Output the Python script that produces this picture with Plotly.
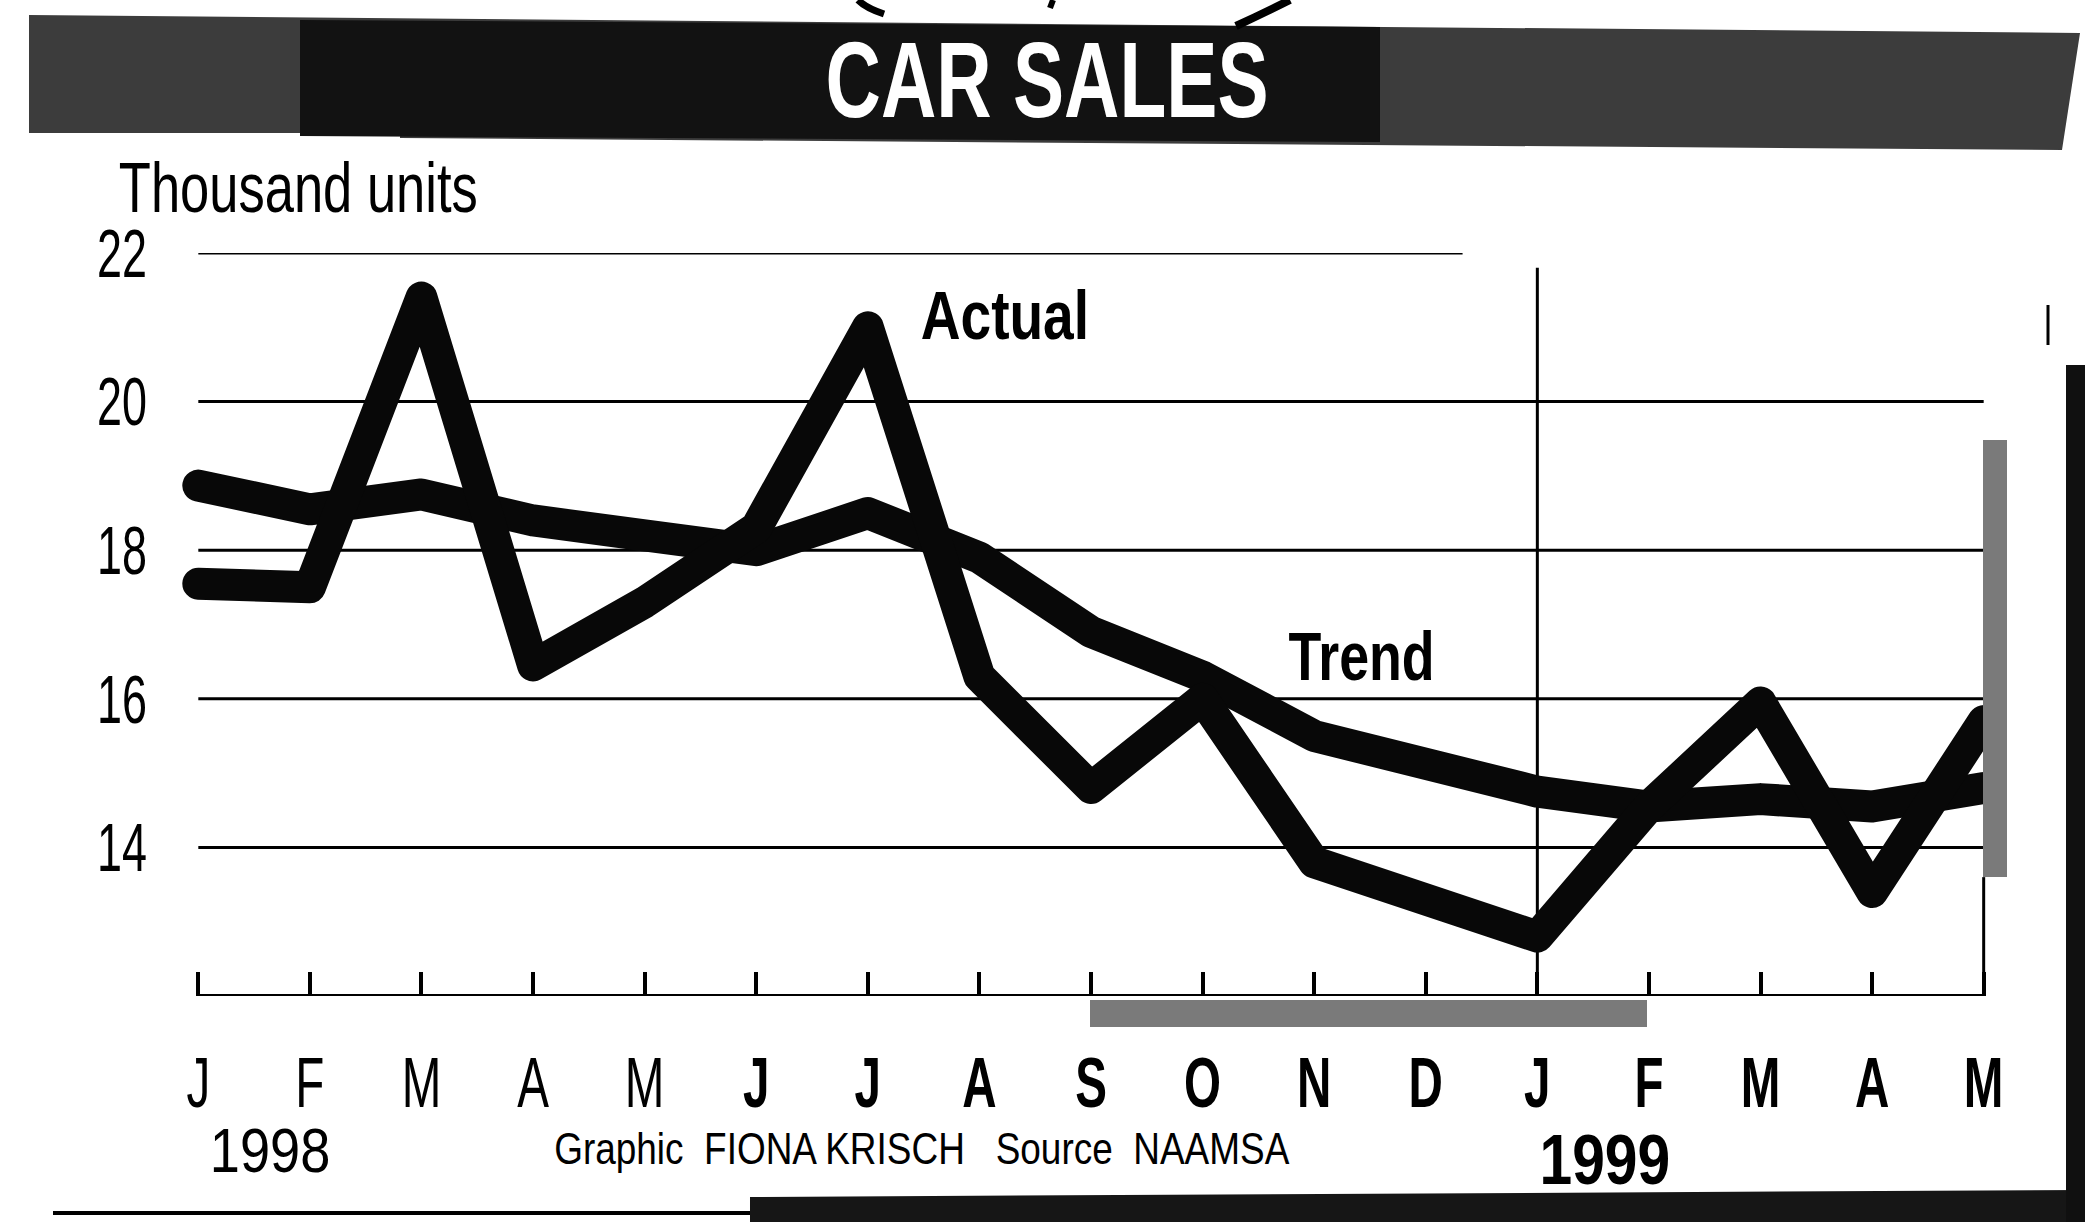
import plotly.graph_objects as go

# Monthly car sales, thousand units (Jan 1998 - May 1999)
months = ["J", "F", "M", "A", "M", "J", "J", "A", "S", "O", "N", "D",
          "J", "F", "M", "A", "M"]
actual = [17.55, 17.5, 21.4, 16.45, 17.3, 18.3, 21.0, 16.3, 14.8, 16.0,
          13.8, 13.25, 12.8, 14.55, 15.95, 13.4, 15.7]
trend = [18.87, 18.55, 18.75, 18.4, 18.2, 18.0, 18.5, 17.9, 16.9, 16.3,
         15.5, 15.1, 14.75, 14.55, 14.65, 14.55, 14.8]
y_ticks = [14, 16, 18, 20, 22]
y_tick_labels = ["14", "16", "18", "20", "22"]

W, H = 2085, 1222
ML, MR, MT, MB = 176, 79, 253, 226
FONT = "Liberation Sans, Arial, sans-serif"


def px(x):
    return (x - ML) / (W - ML - MR)


def py(y):
    return (H - MB - y) / (H - MT - MB)


x_idx = list(range(len(months)))
# later months printed bold
tick_text = [m if i < 5 else f"<b>{m}</b>" for i, m in enumerate(months)]

fig = go.Figure()
fig.add_trace(go.Scatter(x=x_idx, y=trend, mode="lines", name="Trend",
                         line=dict(color="#080808", width=32),
                         hoverinfo="skip"))
fig.add_trace(go.Scatter(x=x_idx, y=actual, mode="lines", name="Actual",
                         line=dict(color="#080808", width=32),
                         hoverinfo="skip"))

shapes = []
# horizontal rules
for v in y_ticks:
    x_end = 11.33 if v == 22 else x_idx[-1]
    shapes.append(dict(type="line", xref="x", yref="y", x0=0, x1=x_end,
                       y0=v, y1=v, line=dict(color="black", width=3),
                       layer="below"))
# base line
shapes.append(dict(type="line", xref="x", yref="y", x0=0, x1=x_idx[-1],
                   y0=12, y1=12, line=dict(color="black", width=4)))
# year divider at January 1999
shapes.append(dict(type="line", xref="x", yref="y", x0=12, x1=12,
                   y0=12, y1=21.8, line=dict(color="black", width=3),
                   layer="below"))
# right edge of the plot box
shapes.append(dict(type="line", xref="x", yref="y", x0=16, x1=16,
                   y0=12, y1=13.6, line=dict(color="black", width=3)))
# grey screens
shapes.append(dict(type="rect", xref="paper", yref="paper",
                   x0=px(1983), x1=px(2007), y0=py(877), y1=py(440),
                   fillcolor="#7a7a7a", line=dict(width=0)))
shapes.append(dict(type="rect", xref="paper", yref="paper",
                   x0=px(1090), x1=px(1647), y0=py(1027), y1=py(1000),
                   fillcolor="#7a7a7a", line=dict(width=0)))


def poly(points):
    return "M " + " L ".join(f"{px(a):.5f},{py(b):.5f}" for a, b in points) + " Z"


# title band
shapes.append(dict(type="path", xref="paper", yref="paper",
                   path=poly([(29, 15), (2080, 33), (2062, 150), (400, 138),
                              (400, 133), (29, 133)]),
                   fillcolor="#3c3c3c", line=dict(width=0)))
shapes.append(dict(type="path", xref="paper", yref="paper",
                   path=poly([(300, 20), (1380, 27), (1380, 142), (300, 136)]),
                   fillcolor="#121212", line=dict(width=0)))
# strokes of the artwork above the band
shapes.append(dict(type="path", xref="paper", yref="paper",
                   path=f"M {px(858):.5f},{py(0):.5f} Q {px(866):.5f},{py(8):.5f} {px(884):.5f},{py(14):.5f}",
                   line=dict(color="black", width=7)))
shapes.append(dict(type="path", xref="paper", yref="paper",
                   path=f"M {px(1290):.5f},{py(0):.5f} Q {px(1262):.5f},{py(14):.5f} {px(1236):.5f},{py(26):.5f}",
                   line=dict(color="black", width=8)))
shapes.append(dict(type="line", xref="paper", yref="paper",
                   x0=px(1053), x1=px(1050), y0=py(0), y1=py(8),
                   line=dict(color="black", width=6)))
# outer frame
shapes.append(dict(type="line", xref="paper", yref="paper",
                   x0=px(53), x1=px(760), y0=py(1213), y1=py(1213),
                   line=dict(color="black", width=4)))
shapes.append(dict(type="path", xref="paper", yref="paper",
                   path=poly([(750, 1197), (2085, 1190), (2085, 1222), (750, 1222)]),
                   fillcolor="#161616", line=dict(width=0)))
shapes.append(dict(type="rect", xref="paper", yref="paper",
                   x0=px(2066), x1=px(2085), y0=py(1222), y1=py(365),
                   fillcolor="#101010", line=dict(width=0)))
shapes.append(dict(type="line", xref="paper", yref="paper",
                   x0=px(2048), x1=px(2048), y0=py(345), y1=py(305),
                   line=dict(color="black", width=3)))


def note(text, x, y, size, xref="paper", yref="paper", color="black"):
    return dict(text=text, x=x, y=y, xref=xref, yref=yref, showarrow=False,
                xanchor="center", yanchor="middle",
                font=dict(family=FONT, size=size, color=color))


annotations = [
    note("<b>CAR SALES</b>", px(1047), py(79), 108, color="white"),
    note("Thousand units", px(298), py(188), 70),
    note("<b>Actual</b>", 7.23, 21.17, 68, xref="x", yref="y"),
    note("<b>Trend</b>", 10.42, 16.57, 68, xref="x", yref="y"),
    note("1998", px(270), py(1150), 63),
    note("<b>1999</b>", px(1605), py(1160), 70),
    note("Graphic  FIONA KRISCH   Source  NAAMSA", px(922), py(1148), 44),
]
# horizontal condensing applied to each annotation, in the same order
note_squeeze = [0.71, 0.75, 0.81, 0.79, 0.86, 0.84, 0.84]

fig.update_layout(
    width=W, height=H,
    margin=dict(l=ML, r=MR, t=MT, b=MB),
    paper_bgcolor="white", plot_bgcolor="white",
    showlegend=False,
    font=dict(family=FONT, color="black"),
    shapes=shapes,
    annotations=annotations,
    xaxis=dict(range=[-0.2, 16.2], tickmode="array", tickvals=x_idx,
               ticktext=tick_text, ticks="inside", ticklen=24, tickwidth=4,
               tickcolor="black", showgrid=False, zeroline=False,
               showline=False, ticklabelstandoff=40,
               tickfont=dict(family=FONT, size=70, color="black"),
               fixedrange=True),
    yaxis=dict(range=[12, 22], tickmode="array", tickvals=y_ticks,
               ticktext=y_tick_labels, ticks="", showgrid=False,
               zeroline=False, showline=False, ticklabelstandoff=28,
               tickfont=dict(family=FONT, size=68, color="black"),
               fixedrange=True),
)

# Round line joins, and condensed lettering (horizontal scale about the
# text anchor point) in the style of a newspaper condensed face.
post = """
var gd = document.getElementById('{plot_id}');
gd.querySelectorAll('.scatterlayer path.js-line').forEach(function (p) {
  p.style.strokeLinejoin = 'round';
  p.style.strokeLinecap = 'round';
});
function squeeze(el, s) {
  if (!el || el.getAttribute('data-sq')) return;
  var bb = el.getBBox();
  var a = el.getAttribute('text-anchor') || 'start';
  var cx = a === 'middle' ? bb.x + bb.width / 2 : (a === 'end' ? bb.x + bb.width : bb.x);
  var t = el.getAttribute('transform') || '';
  el.setAttribute('transform', t + ' translate(' + cx + ',0) scale(' + s + ',1) translate(' + (-cx) + ',0)');
  el.setAttribute('data-sq', '1');
}
gd.querySelectorAll('.xtick text').forEach(function (e) { squeeze(e, 0.68); });
gd.querySelectorAll('.ytick text').forEach(function (e) { squeeze(e, 0.66); });
var NS = __NS__;
gd.querySelectorAll('g.annotation').forEach(function (g) {
  var i = +g.getAttribute('data-index');
  squeeze(g.querySelector('text.annotation-text'), NS[i]);
});
""".replace("__NS__", str(note_squeeze))

fig.write_html("out.html", post_script=post,
               config={"displayModeBar": False})
